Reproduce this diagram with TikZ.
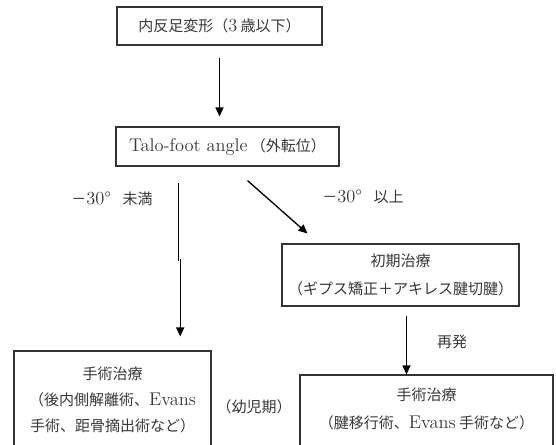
\documentclass[tikz,border=0pt]{standalone}
\usepackage{fontspec}
\newfontfamily\cjk{Noto Sans CJK JP}
\newcommand\latw[1]{{\rmfamily\fontsize{13.8}{21}\selectfont #1}}
\usetikzlibrary{arrows.meta,calc}
\begin{document}
\begin{tikzpicture}[x=0.75pt,y=-0.75pt,
  box/.style={draw=black!80, line width=0.8pt, inner sep=0pt, align=center, text=black!78, font=\cjk\fontsize{11.25}{21}\selectfont},
  txt/.style={inner sep=0pt, align=center, text=black!78, font=\cjk\fontsize{11.25}{21}\selectfont},
  conn/.style={line width=1pt, black},
  arr/.style={conn, -{Triangle[length=6.75pt,width=6pt]}}]
\useasboundingbox (0,0) rectangle (556,444);
\fill[white] (0,0) rectangle (556,444);
\clip (0,0) rectangle (556,444);

\node[box, minimum width=153.75pt, minimum height=28.5pt] (b1) at (219.5,26) {内反足変形（\latw{3} 歳以下）};
\node[box, minimum width=167.25pt, minimum height=29.25pt] (b2) at (227.5,146.5) {\latw{Talo-foot angle} （外転位）};
\node[box, minimum width=177.75pt, minimum height=46.5pt] (b3) at (400.5,275) {初期治療\\（ギプス矯正＋アキレス腱切腱）};
\node[box, minimum width=147.75pt, minimum height=81.75pt] (b4) at (112.5,405.5) {};
\node[box, minimum width=189.75pt, minimum height=63.75pt] (b5) at (426.5,417.5) {};
\node[txt, font=\cjk\fontsize{11.25}{19.5}\selectfont] (t4) at (112.5,400) {手術治療\\（後内側解離術、\latw{Evans}\\手術、距骨摘出術など）};
\node[txt] (t5) at (426.5,409) {手術治療\\（腱移行術、\latw{Evans} 手術など）};

\node[txt] (l1) at (112,199) {－\latw{30°}\hspace{8.5pt}未満};
\node[txt] (l2) at (363,197) {－\latw{30°}\hspace{8.5pt}以上};
\node[txt] (l3) at (452,342) {再発};
\node[txt] (l4) at (254,407) {（幼児期）};

\draw[arr, shorten <=9pt, shorten >=7.5pt] (b1.south) -- (b1.south |- b2.north);

\coordinate (j1) at (178.7,261);
\coordinate (j2) at (180.2,259);
\draw[conn, shorten <=12pt] (j1 |- b2.south) -- (j1);
\draw[arr, shorten >=10.5pt] (j2) -- (j2 |- b4.north);

\draw[arr] ($(b2.south west)+(132,14)$) -- ($(b3.north west)+(26,-10)$);

\coordinate (a3) at ($(b3.south west)+(125,9)$);
\draw[arr] (a3) -- (a3 |- b5.north);
\end{tikzpicture}
\end{document}
